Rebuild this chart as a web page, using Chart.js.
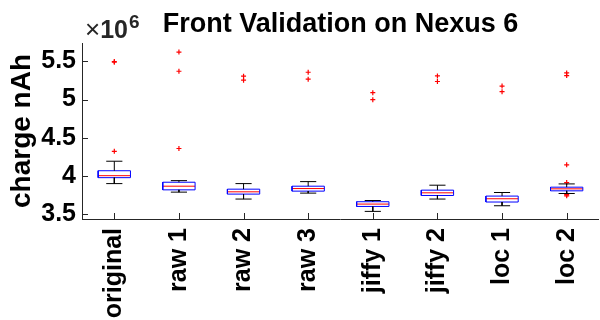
<!DOCTYPE html>
<html>
<head>
<meta charset="utf-8">
<script src="https://cdn.jsdelivr.net/npm/chart.js@4/dist/chart.umd.min.js"></script>
<style>
  html, body { margin: 0; padding: 0; background: #fff; overflow: hidden; }
  #wrap { width: 600px; height: 320px; overflow: hidden; }
</style>
</head>
<body>
<div id="wrap"><canvas id="chart" width="606" height="320"></canvas></div>
<script>
// valores en unidades de 1e6 nAh
const labels = ['original', 'raw 1', 'raw 2', 'raw 3', 'jiffy 1', 'jiffy 2', 'loc 1', 'loc 2'];
const q1 = [3.974, 3.814, 3.758, 3.797, 3.596, 3.740, 3.654, 3.801];
const q3 = [4.065, 3.914, 3.823, 3.862, 3.658, 3.810, 3.732, 3.849];
const mediana = [4.000, 3.862, 3.788, 3.831, 3.627, 3.775, 3.697, 3.827];
const bigoteBajo = [3.896, 3.784, 3.693, 3.771, 3.531, 3.693, 3.605, 3.766];
const bigoteAlto = [4.190, 3.935, 3.896, 3.922, 3.674, 3.875, 3.779, 3.892];
const atipicos = [
    [5.50, 5.49, 4.32],
    [5.624, 5.372, 4.357],
    [5.307, 5.255],
    [5.359, 5.268],
    [5.09, 4.999],
    [5.31, 5.237],
    [5.177, 5.103],
    [5.35, 5.315, 4.143, 3.909, 3.75, 3.736]
];
const yTicks = [3.5, 4, 4.5, 5, 5.5];
const yTickLabels = ['3.5', '4', '4.5', '5', '5.5'];

const ancho = 0.25;   // media caja
const tapa = 0.125;   // media tapa del bigote

/* armar los segmentos de cada caja */
const cajas = [], medianas = [], bigotes = [], puntos = [];
labels.forEach(function (l, i) {
    const x = i + 1;
    cajas.push({x: x - ancho, y: q1[i]}, {x: x + ancho, y: q1[i]}, {x: x + ancho, y: q3[i]},
               {x: x - ancho, y: q3[i]}, {x: x - ancho, y: q1[i]}, {x: x, y: null});
    medianas.push({x: x - ancho, y: mediana[i]}, {x: x + ancho, y: mediana[i]}, {x: x, y: null});
    bigotes.push({x: x, y: q3[i]}, {x: x, y: bigoteAlto[i]}, {x: x, y: null},
                 {x: x - tapa, y: bigoteAlto[i]}, {x: x + tapa, y: bigoteAlto[i]}, {x: x, y: null},
                 {x: x, y: q1[i]}, {x: x, y: bigoteBajo[i]}, {x: x, y: null},
                 {x: x - tapa, y: bigoteBajo[i]}, {x: x + tapa, y: bigoteBajo[i]}, {x: x, y: null});
    atipicos[i].forEach(function (v) { puntos.push({x: x, y: v}); });
});

const fuente = "'Liberation Sans', Arial, Helvetica, sans-serif";
const gris = '#262626';

/* titulo, exponente y marcas hacia adentro */
const extras = {
    id: 'extras',
    afterDraw(chart) {
        const ctx = chart.ctx;
        const area = chart.chartArea;
        const sx = chart.scales.x, sy = chart.scales.y;
        ctx.save();
        ctx.strokeStyle = gris;
        ctx.lineWidth = 1;
        ctx.beginPath();
        sy.ticks.forEach(function (t) {
            const y = Math.round(sy.getPixelForValue(t.value)) + 0.5;
            ctx.moveTo(area.left, y); ctx.lineTo(area.left + 6, y);
        });
        sx.ticks.forEach(function (t) {
            const x = Math.round(sx.getPixelForValue(t.value)) + 0.5;
            ctx.moveTo(x, area.bottom); ctx.lineTo(x, area.bottom - 6);
        });
        ctx.stroke();

        ctx.fillStyle = '#000';
        ctx.textAlign = 'center';
        ctx.textBaseline = 'alphabetic';
        ctx.font = 'bold 27px ' + fuente;
        ctx.fillText('Front Validation on Nexus 6', (area.left + area.right) / 2, 32);

        ctx.fillStyle = gris;
        ctx.textAlign = 'left';
        ctx.font = '26px ' + fuente;
        ctx.fillText('\u00d7', 85, 38);
        const wx = ctx.measureText('\u00d7').width;
        ctx.font = 'bold 25px ' + fuente;
        ctx.fillText('10', 85 + wx, 38);
        const w10 = ctx.measureText('10').width;
        ctx.font = 'bold 19px ' + fuente;
        ctx.fillText('6', 85 + wx + w10 + 1, 28);
        ctx.restore();
    }
};

const canvas = document.getElementById('chart');
const grafico = new Chart(canvas, {
    type: 'scatter',
    data: {
        datasets: [
            {
                label: 'bigotes',
                data: bigotes,
                showLine: true,
                borderColor: '#000',
                borderWidth: 1,
                pointRadius: 0,
                spanGaps: false
            },
            {
                label: 'cajas',
                data: cajas,
                showLine: true,
                borderColor: '#0000ff',
                borderWidth: 1,
                pointRadius: 0,
                spanGaps: false
            },
            {
                label: 'medianas',
                data: medianas,
                showLine: true,
                borderColor: '#ff0000',
                borderWidth: 1,
                pointRadius: 0,
                spanGaps: false
            },
            {
                label: 'atipicos',
                data: puntos,
                pointStyle: 'cross',
                pointRadius: 2.5,
                pointBorderColor: '#ff0000',
                pointBorderWidth: 1.2,
                showLine: false
            }
        ]
    },
    options: {
        responsive: false,
        animation: false,
        devicePixelRatio: 1,
        layout: {padding: {top: 43, right: 1, left: 0, bottom: 0}},
        plugins: {
            legend: {display: false},
            tooltip: {enabled: false}
        },
        scales: {
            x: {
                type: 'linear',
                min: 0.5,
                max: 8.5,
                afterBuildTicks(scale) {
                    scale.ticks = labels.map(function (l, i) { return {value: i + 1}; });
                },
                afterFit(scale) { scale.height = 101; },
                grid: {display: false, drawTicks: false, tickLength: 0},
                border: {display: true, color: gris, width: 1},
                ticks: {
                    minRotation: 90,
                    maxRotation: 90,
                    autoSkip: false,
                    padding: 9,
                    color: '#000',
                    font: {family: fuente, size: 25, weight: 'bold'},
                    callback: function (v) { return labels[v - 1]; }
                }
            },
            y: {
                min: 3.431,
                max: 5.743,
                afterBuildTicks(scale) {
                    scale.ticks = yTicks.map(function (v) { return {value: v}; });
                },
                afterFit(scale) { scale.width = 82; },
                grid: {display: false, drawTicks: false, tickLength: 0},
                border: {display: true, color: gris, width: 1},
                ticks: {
                    padding: 6,
                    color: '#000',
                    font: {family: fuente, size: 25, weight: 'bold'},
                    callback: function (v) { return yTickLabels[yTicks.indexOf(v)]; }
                },
                title: {
                    display: true,
                    text: 'charge nAh',
                    color: '#000',
                    font: {family: fuente, size: 28, weight: 'bold'},
                    padding: {top: 5, bottom: 0}
                }
            }
        }
    },
    plugins: [extras]
});
</script>
</body>
</html>
